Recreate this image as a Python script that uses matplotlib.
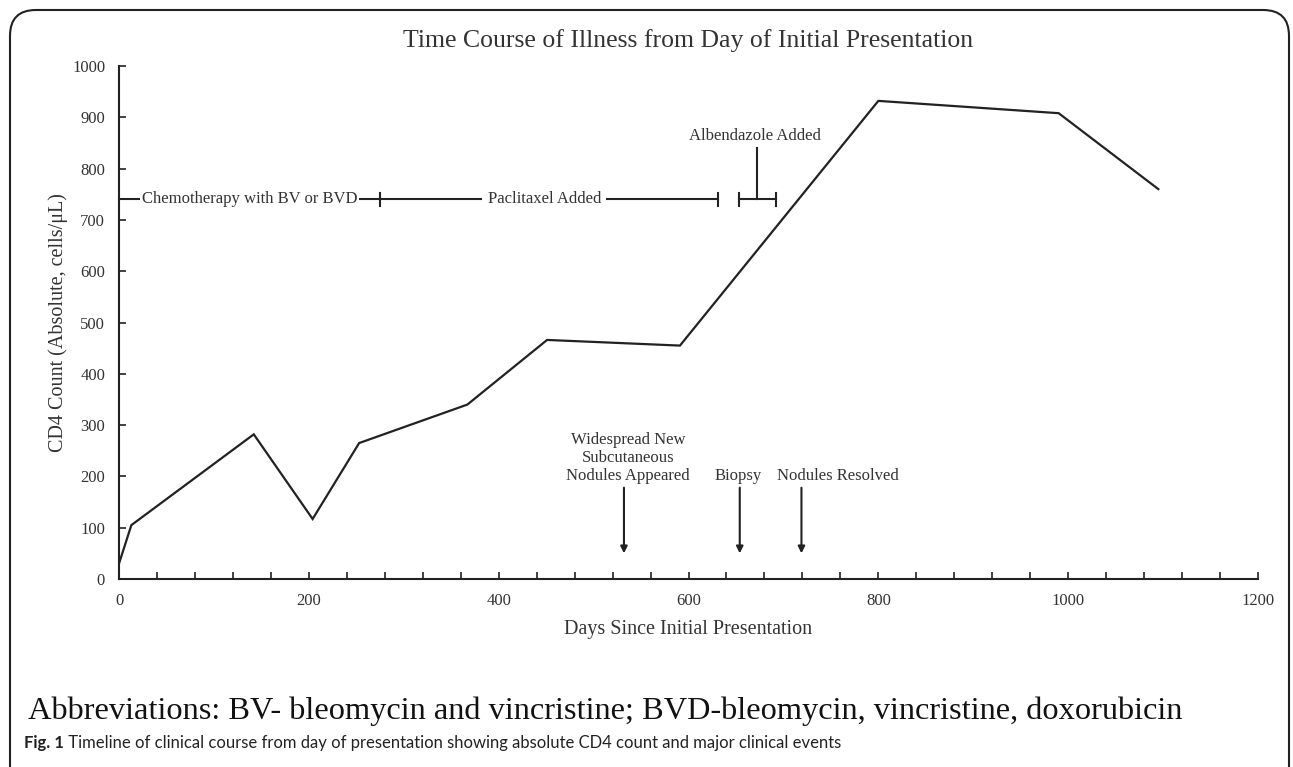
import matplotlib
matplotlib.use("Agg")
import matplotlib.pyplot as plt
from matplotlib.patches import FancyBboxPatch

# ---- data ----
days = [0, 13, 142, 204, 253, 367, 451, 591, 800, 990, 1095]
cd4 = [30, 105, 282, 117, 265, 340, 466, 455, 932, 908, 760]

x_ticks_major = [0, 200, 400, 600, 800, 1000, 1200]
y_ticks = [0, 100, 200, 300, 400, 500, 600, 700, 800, 900, 1000]

bracket_y = 740
chemo_span = (0, 275)
pacli_span = (275, 631)
albend_span = (653, 692)
chemo_label = "Chemotherapy with BV or BVD"
pacli_label = "Paclitaxel Added"
albend_label = "Albendazole Added"

event_days = [532, 654, 719]
event_text_x = [536, 652, 757]
event_labels = ["Widespread New\nSubcutaneous\nNodules Appeared", "Biopsy", "Nodules Resolved"]

title = "Time Course of Illness from Day of Initial Presentation"
xlabel = "Days Since Initial Presentation"
ylabel = "CD4 Count (Absolute, cells/\u03bcL)"
abbrev = "Abbreviations: BV- bleomycin and vincristine; BVD-bleomycin, vincristine, doxorubicin"
caption_bold = "Fig. 1"
caption_text = " Timeline of clinical course from day of presentation showing absolute CD4 count and major clinical events"

serif = "Liberation Serif"
capfont = ["Lato", "DejaVu Sans"]
gray = "#333333"

fig = plt.figure(figsize=(12.93, 7.67), dpi=100)
ax = fig.add_axes([119/1293, 1-579/767, (1258-119)/1293, (579-66)/767])

ax.plot(days, cd4, color="#222222", lw=1.6, solid_joinstyle="miter")

ax.set_xlim(0, 1200)
ax.set_ylim(0, 1000)
ax.set_xticks(x_ticks_major)
ax.set_xticks(range(0, 1201, 40), minor=True)
ax.set_yticks(y_ticks)
for s in ["top", "right"]:
    ax.spines[s].set_visible(False)
for s in ["left", "bottom"]:
    ax.spines[s].set_linewidth(1.5)
    ax.spines[s].set_color("#222222")
ax.tick_params(axis="both", which="both", direction="in", color="#222222", width=1.2)
ax.tick_params(axis="y", length=5, labelsize=12, labelcolor=gray, pad=10)
ax.tick_params(axis="x", which="major", length=5, labelsize=12, labelcolor=gray, pad=10)
ax.tick_params(axis="x", which="minor", length=5)
for lab in ax.get_xticklabels() + ax.get_yticklabels():
    lab.set_fontfamily(serif)

ax.set_xlabel(xlabel, fontfamily=serif, fontsize=14.5, color=gray, labelpad=8)
ax.set_ylabel(ylabel, fontfamily=serif, fontsize=14.5, color=gray, labelpad=3)
ax.set_title(title, fontfamily=serif, fontsize=18.5, color=gray, pad=14)

lc = "#222222"
cap = 12
# chemo bracket
ax.plot(chemo_span, [bracket_y]*2, color=lc, lw=1.5, clip_on=False)
ax.plot([chemo_span[1]]*2, [bracket_y-cap, bracket_y+cap], color=lc, lw=1.5)
ax.text(sum(chemo_span)/2, bracket_y, chemo_label, ha="center", va="center",
        fontfamily=serif, fontsize=12, color=gray,
        bbox=dict(facecolor="white", edgecolor="none", pad=1))
# paclitaxel bracket
ax.plot(pacli_span, [bracket_y]*2, color=lc, lw=1.5)
ax.plot([pacli_span[1]]*2, [bracket_y-cap, bracket_y+cap], color=lc, lw=1.5)
ax.text(448, bracket_y, pacli_label, ha="center", va="center",
        fontfamily=serif, fontsize=12, color=gray,
        bbox=dict(facecolor="white", edgecolor="none", pad=4))
# albendazole bracket
ax.plot(albend_span, [bracket_y]*2, color=lc, lw=1.5)
for xx in albend_span:
    ax.plot([xx]*2, [bracket_y-cap, bracket_y+cap], color=lc, lw=1.5)
mid = sum(albend_span)/2
ax.plot([mid, mid], [bracket_y, 840], color=lc, lw=1.5)
ax.text(mid - 3, 848, albend_label, ha="center", va="bottom",
        fontfamily=serif, fontsize=12, color=gray)

# event arrows
for d, tx, lab in zip(event_days, event_text_x, event_labels):
    ax.annotate("", xy=(d, 50), xytext=(d, 178),
                arrowprops=dict(arrowstyle="-|>", color=lc, lw=1.5,
                                mutation_scale=10, shrinkA=0, shrinkB=0))
    ax.text(tx, 185, lab, ha="center", va="bottom",
            fontfamily=serif, fontsize=12, color=gray, linespacing=1.15)

# abbreviation and caption
fig.text(28/1293, 1-711/767, abbrev, ha="left", va="center",
         fontfamily=serif, fontsize=23.3, color="#111111")
t1 = fig.text(24/1293, 1-743/767, caption_bold, ha="left", va="center",
              fontfamily=capfont, fontweight="bold", fontsize=12, color="#222222")
fig.canvas.draw()
bb = t1.get_window_extent()
fig.text(bb.x1/1293, 1-743/767, caption_text, ha="left", va="center",
         fontfamily=capfont, fontsize=12, color="#222222")

# rounded frame
frame = FancyBboxPatch((10/1293, -0.05), (1289-10)/1293, (1-10/767) + 0.05,
                       boxstyle="round,pad=0,rounding_size=0.02",
                       transform=fig.transFigure, fill=False,
                       edgecolor="#222222", lw=1.5, mutation_aspect=1293/767)
fig.patches.append(frame)

fig.savefig("out.png", dpi=100)
